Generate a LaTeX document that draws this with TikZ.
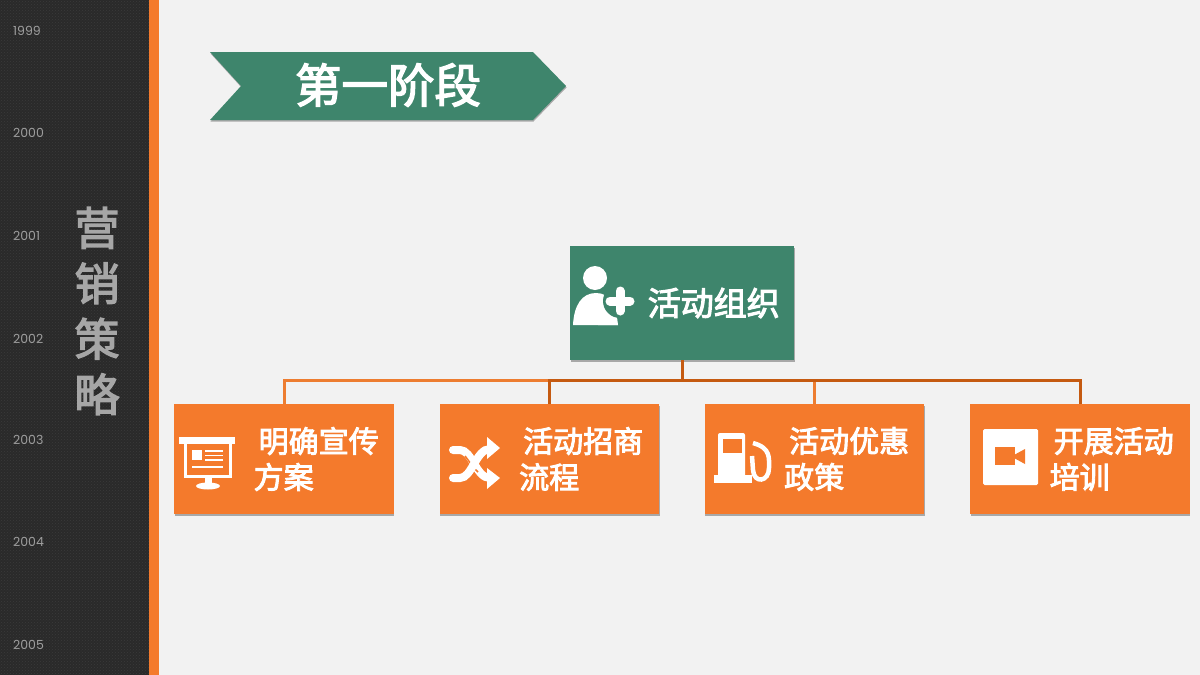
\documentclass[tikz,border=0pt]{standalone}
\usepackage{fontspec}
\newfontfamily\cjk[FakeBold=3]{Noto Sans CJK SC}
\newfontfamily\yearfont{Poppins}
\usetikzlibrary{shadows,patterns}
\definecolor{pagebg}{HTML}{F2F2F2}
\definecolor{sidedark}{HTML}{2A2A2A}
\definecolor{sidegrain}{HTML}{3A3A3A}
\definecolor{stageorange}{HTML}{F47A2C}
\definecolor{stagegreen}{HTML}{3E856C}
\definecolor{linklight}{HTML}{ED7D31}
\definecolor{linkdark}{HTML}{C55A11}
\tikzset{
  softshadow/.style={drop shadow={shadow xshift=0.5pt, shadow yshift=-1.5pt, opacity=0.3, fill=black}},
  rootbox/.style={fill=stagegreen, minimum width=224pt, minimum height=114pt, inner sep=0pt, softshadow},
  taskbox/.style={fill=stageorange, minimum width=219.5pt, minimum height=110pt, inner sep=0pt, softshadow},
  tasktext/.style={text=white, anchor=west, align=left, inner sep=0pt, font=\cjk\fontsize{30}{36}\selectfont},
  yeartext/.style={text=black!38, anchor=west, inner sep=0pt, font=\yearfont\fontsize{12.5}{14}\selectfont},
}
\begin{document}
\begin{tikzpicture}[x=1pt,y=-1pt]
  \useasboundingbox (0,0) rectangle (1200,675);
  \fill[pagebg] (0,0) rectangle (1200,675);

  % Side bar
  \fill[sidedark] (0,0) rectangle (149,675);
  \fill[pattern=crosshatch dots, pattern color=sidegrain] (0,0) rectangle (149,675);
  \fill[stageorange] (149,0) rectangle (159,675);
  \foreach \yr/\yy in {1999/30.5, 2000/132.5, 2001/235.5, 2002/338.5, 2003/439.5, 2004/541.5, 2005/644.5}
    \node[yeartext] (year\yr) at (13,\yy) {\yr};
  \node[text=black!35, align=center, inner sep=0pt, font=\cjk\fontsize{45}{55.5}\selectfont] (sidetitle) at (97,311) {营\\销\\策\\略};

  % Stage banner
  \fill[stagegreen, softshadow] (210,52) -- (533,52) -- (566,86) -- (533,120) -- (210,120) -- (241,86) -- cycle;
  \node[text=white, inner sep=0pt, font=\cjk\fontsize{46.5}{50}\selectfont] (stagetitle) at (388,85) {第一阶段};

  % Boxes
  \node[rootbox] (root) at (682,303) {};
  \node[text=white, anchor=west, inner sep=0pt, font=\cjk\fontsize{33}{36}\selectfont] (roottext) at (647.5,303) {活动组织};
  \foreach \boxname/\boxx/\boxtext in {
      publicity/284/{\hspace*{5pt}明确宣传\\方案},
      invite/549.5/{\hspace*{4pt}活动招商\\流程},
      offer/814.5/{\hspace*{5pt}活动优惠\\政策},
      training/1080/{\hspace*{4pt}开展活动\\培训}} {
    \node[taskbox] (\boxname) at (\boxx,459) {};
    \node[tasktext] (\boxname text) at (\boxx-30.5,459) {\boxtext};
  }

  % Connectors
  \coordinate (bus) at (682,380);
  \draw[linklight, line width=3pt] (root.south) -- (bus) -| (publicity.north);
  \draw[linklight, line width=3pt] (root.south) -- (bus) -| (offer.north);
  \draw[linkdark, line width=3pt] (root.south) -- (bus) -| (invite.north);
  \draw[linkdark, line width=3pt] (root.south) -- (bus) -| (training.north);

  % Icon: person with plus
  \fill[white] (595,278) circle (12);
  \fill[white] (573,325) .. controls (574,305) and (582,293) .. (596,293) .. controls (610,293) and (616,305) .. (618,325) -- cycle;
  \fill[stagegreen] (620,301) circle (17);
  \draw[white, line width=9pt, line cap=round] (610,301) -- (630,301) (620,291) -- (620,311);
  \fill[white] (598,310) -- (606,312) -- (617,322) -- (618,325) -- (598,325) -- cycle;

  % Icon: screen
  \fill[white] (179,437) rectangle (235,444);
  \draw[white, line width=3pt] (185.5,444) -- (185.5,476) -- (230.5,476) -- (230.5,444);
  \fill[white] (205,476) rectangle (212,484);
  \fill[white] (208,486) ellipse (12 and 3.5);
  \fill[white] (192,450) rectangle (202,460);
  \draw[white, line width=1.6pt] (205,451) -- (223,451) (205,455.5) -- (223,455.5) (205,460) -- (223,460) (192,467) -- (223,467);

  % Icon: shuffle
  \draw[white, line width=8pt, line cap=round] (453,450) -- (460,450) .. controls (472,450) and (476,478) .. (490,478);
  \draw[stageorange, line width=1.5pt] (465,456) .. controls (470,462) and (473,468) .. (478,472);
  \draw[white, line width=8pt, line cap=round] (453,478) -- (460,478) .. controls (472,478) and (476,449) .. (490,449);
  \fill[white] (487,437) -- (500,448) -- (487,459) -- cycle;
  \fill[white] (487,468) -- (500,478) -- (487,489) -- cycle;

  % Icon: fuel pump
  \fill[white, rounded corners=2pt] (718,433) rectangle (745,478);
  \fill[white] (714,475) rectangle (752,483);
  \fill[stageorange] (723,439) rectangle (742,453);
  \draw[white, line width=4.5pt] (753,443) .. controls (771,448) and (769,458) .. (769,468) .. controls (769,482) and (754,484) .. (753,470) -- (752,456);

  % Icon: video
  \fill[white, rounded corners=1.5pt] (983,429) rectangle (1038,485);
  \fill[stageorange] (995,447) rectangle (1015,465);
  \fill[stageorange] (1014,455) -- (1025,449) -- (1025,464) -- (1014,458) -- cycle;
\end{tikzpicture}
\end{document}
